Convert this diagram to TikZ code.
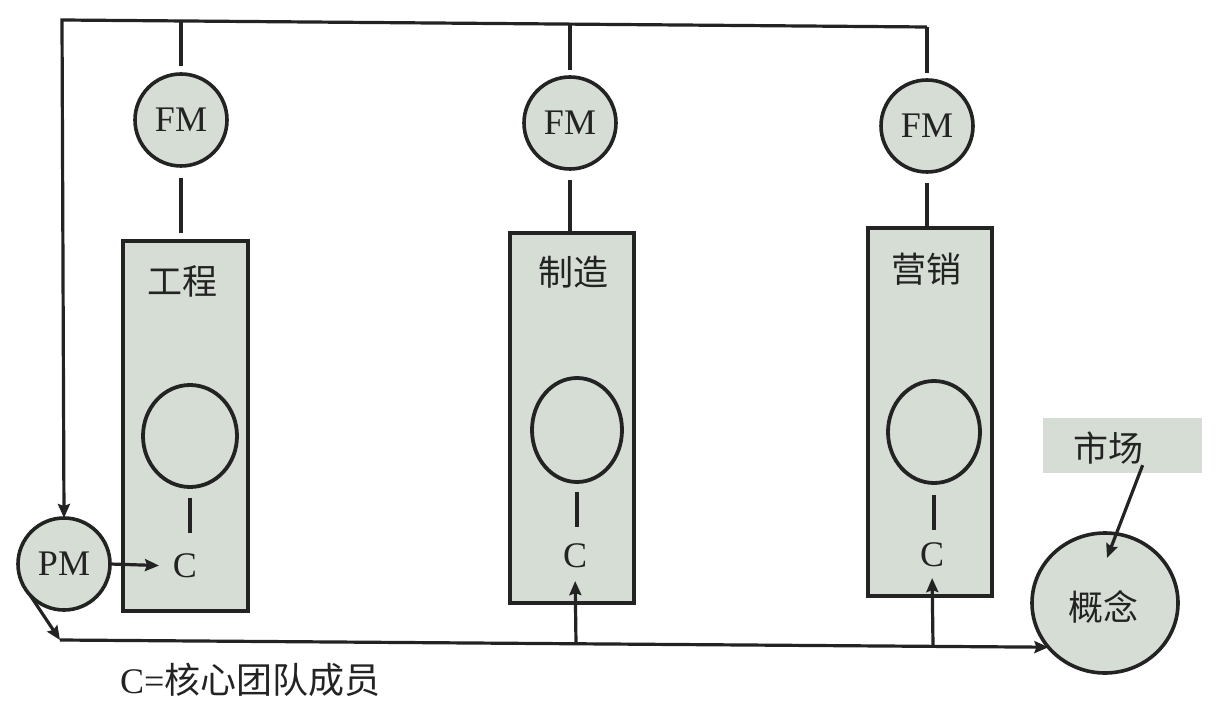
\documentclass[tikz,border=0pt]{standalone}
\usepackage{fontspec}
\setmainfont{Liberation Serif}
\newfontfamily\cjk{Noto Sans CJK SC}
\usetikzlibrary{arrows.meta,shapes.geometric,calc}
\definecolor{fillg}{RGB}{213,221,213}
\definecolor{ink}{RGB}{35,35,35}
\begin{document}
\begin{tikzpicture}[x=1pt,y=-1pt,
  every node/.style={inner sep=0pt,outer sep=0pt},
  line/.style={draw=ink,line width=3.2pt},
  arr/.style={line,-{Stealth[length=14pt,width=12pt,inset=2pt]}},
  fmcirc/.style={circle,draw=ink,fill=fillg,line width=3.6pt,minimum size=92pt,font=\fontsize{36}{40}\selectfont,text=ink},
  dept/.style={rectangle,draw=ink,fill=fillg,line width=3.8pt},
  core/.style={ellipse,draw=ink,line width=3.8pt},
  lat/.style={font=\fontsize{36}{40}\selectfont,text=ink},
  zh/.style={font=\fontsize{35}{40}\selectfont\cjk,text=ink},
]
\useasboundingbox (0,0) rectangle (1230,708);

% department boxes
\node[dept,minimum width=125pt,minimum height=370pt] (box1) at (185.5,426) {};
\node[dept,minimum width=124pt,minimum height=370pt] (box2) at (572,418) {};
\node[dept,minimum width=124pt,minimum height=368pt] (box3) at (930,412) {};

\node[zh] (t1) at (182,281) {工程};
\node[zh] (t2) at (573,272) {制造};
\node[zh] (t3) at (926,269) {营销};

% core ellipses
\node[core,minimum width=94pt,minimum height=102pt] (e1) at (190,436) {};
\node[core,minimum width=90pt,minimum height=104pt] (e2) at (577,430) {};
\node[core,minimum width=92pt,minimum height=102pt] (e3) at (934,432) {};

% C labels
\node[lat] (c1) at (185,566) {C};
\node[lat] (c2) at (575,556) {C};
\node[lat] (c3) at (932,555) {C};

\draw[line] (e1.south) ++(0,11) -- ++(0,35);
\draw[line] (e2.south) ++(0,10) -- ++(0,35);
\draw[line] (e3.south) ++(0,12) -- ++(0,35);

% functional managers
\node[fmcirc] (fm1) at (181,120) {FM};
\node[fmcirc] (fm2) at (570,123) {FM};
\node[fmcirc] (fm3) at (927,126) {FM};

% project manager
\node[fmcirc] (pm) at (64,564) {PM};

% concept and market
\node[ellipse,draw=ink,fill=fillg,line width=3.6pt,minimum width=146pt,minimum height=140pt] (concept) at (1105,603) {};
\node[zh] (ctxt) at (1103,607) {概念};
\node[rectangle,fill=fillg,minimum width=159pt,minimum height=55pt] (market) at (1122.5,445.5) {};
\node[zh] (mtxt) at (1108,448) {市场};

% top bus
\coordinate (tl) at (62,20);
\coordinate (tr) at (927,27);
\coordinate (tap1) at (181,21);
\coordinate (tap2) at (570,24);
\draw[arr] (tr) -- (tl) -- (pm.north);
\draw[line,shorten >=8pt] (fm1.north |- tap1) -- (fm1.north);
\draw[line,shorten >=7pt] (fm2.north |- tap2) -- (fm2.north);
\draw[line,shorten >=7pt] (tr) -- (fm3.north);

% FM to departments
\draw[line,shorten <=12pt,shorten >=8pt] (fm1.south) -- (fm1.south |- box1.north);
\draw[line,shorten <=11pt] (fm2.south) -- (fm2.south |- box2.north);
\draw[line,shorten <=11pt] (fm3.south) -- (fm3.south |- box3.north);

% PM to C
\draw[arr,shorten >=14pt] (pm.east) -- (c1.west);

% bottom line
\coordinate (bl) at (60,640);
\coordinate (j2) at (576,644);
\coordinate (j3) at (933,646);
\draw[arr] (pm.-138) -- (bl);
\draw[arr] (bl) -- (concept.-142);
\draw[arr,shorten >=13pt] (j2) -- (c2.south);
\draw[arr,shorten >=11pt] (j3) -- (c3.south);

% market to concept
\draw[arr,shorten <=1pt] (mtxt.south east) -- ($(concept.center)+(2,-45)$);

% legend
\node[lat,anchor=west] (legend) at (120,680) {C={\cjk 核心团队成员}};
\end{tikzpicture}
\end{document}
